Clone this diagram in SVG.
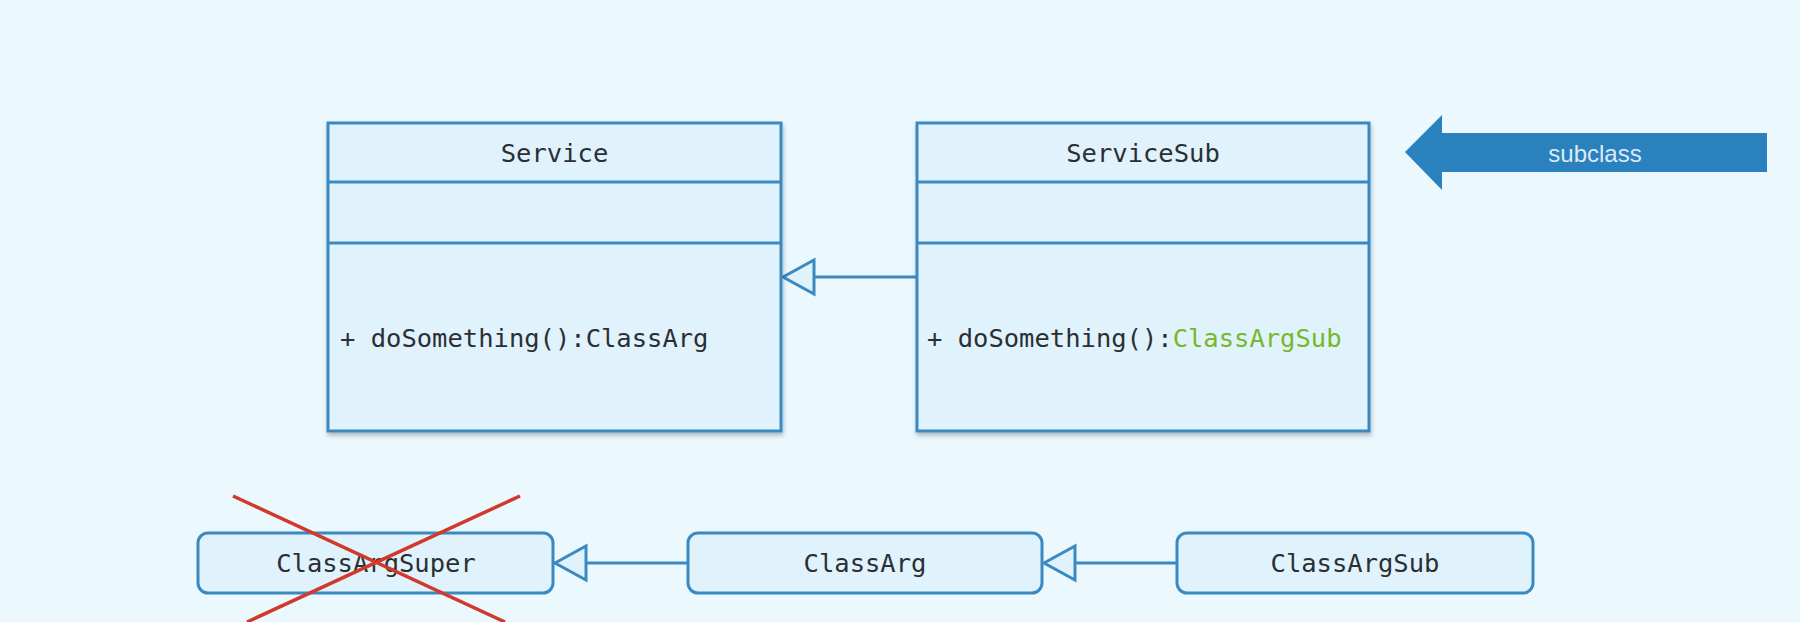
<svg xmlns="http://www.w3.org/2000/svg" width="1800" height="622" viewBox="0 0 1800 622">
<defs>
<filter id="sh" x="-5%" y="-5%" width="110%" height="115%">
<feDropShadow dx="1" dy="3" stdDeviation="2" flood-color="#000" flood-opacity="0.25"/>
</filter>
<style>
.box{fill:#e0f2fc;stroke:#3a89c1;stroke-width:3}
.div{stroke:#3a89c1;stroke-width:3}
.mono{font-family:"DejaVu Sans Mono","Liberation Mono",monospace;font-size:25.5px;fill:#2b2f33}
.c{text-anchor:middle}
.conn{stroke:#3a89c1;stroke-width:3;fill:none}
.tri{fill:#e0f2fc;stroke:#3a89c1;stroke-width:3;stroke-linejoin:miter}
.x{stroke:#d0392b;stroke-width:3.5}
</style>
</defs>
<rect width="1800" height="622" fill="#ebf8fe"/>

<g id="connectors">
<line class="conn" x1="814" y1="277" x2="917" y2="277"/>
<polygon class="tri" points="783,277 814,260 814,294"/>
<line class="conn" x1="586" y1="563" x2="688" y2="563"/>
<polygon class="tri" points="555,563 586,546 586,580"/>
<line class="conn" x1="1075" y1="563" x2="1177" y2="563"/>
<polygon class="tri" points="1044,563 1075,546 1075,580"/>
</g>

<g id="Service">
<rect class="box" x="328" y="123" width="453" height="308" filter="url(#sh)"/>
<line class="div" x1="328" y1="182" x2="781" y2="182"/>
<line class="div" x1="328" y1="243" x2="781" y2="243"/>
<text class="mono c" x="554.5" y="162">Service</text>
<text class="mono" x="340" y="347">+ doSomething():ClassArg</text>
</g>

<g id="ServiceSub">
<rect class="box" x="917" y="123" width="452" height="308" filter="url(#sh)"/>
<line class="div" x1="917" y1="182" x2="1369" y2="182"/>
<line class="div" x1="917" y1="243" x2="1369" y2="243"/>
<text class="mono c" x="1143" y="162">ServiceSub</text>
<text class="mono" x="927" y="347">+ doSomething():<tspan fill="#77b82a">ClassArgSub</tspan></text>
</g>

<g id="subclassArrow">
<polygon points="1405,152 1442,115 1442,133 1767,133 1767,172 1442,172 1442,190" fill="#2a81bd"/>
<text x="1595" y="162" text-anchor="middle" font-family="Liberation Sans, Arial, sans-serif" font-size="24" fill="#dcebf7">subclass</text>
</g>

<g id="ClassArgSuper">
<rect class="box" x="198" y="533" width="355" height="60" rx="10"/>
<text class="mono c" x="376" y="572">ClassArgSuper</text>
<line class="x" x1="233" y1="496" x2="505" y2="622"/>
<line class="x" x1="520" y1="496" x2="247" y2="622"/>
</g>

<g id="ClassArg">
<rect class="box" x="688" y="533" width="354" height="60" rx="10"/>
<text class="mono c" x="865" y="572">ClassArg</text>
</g>

<g id="ClassArgSub">
<rect class="box" x="1177" y="533" width="356" height="60" rx="10"/>
<text class="mono c" x="1355" y="572">ClassArgSub</text>
</g>
</svg>
